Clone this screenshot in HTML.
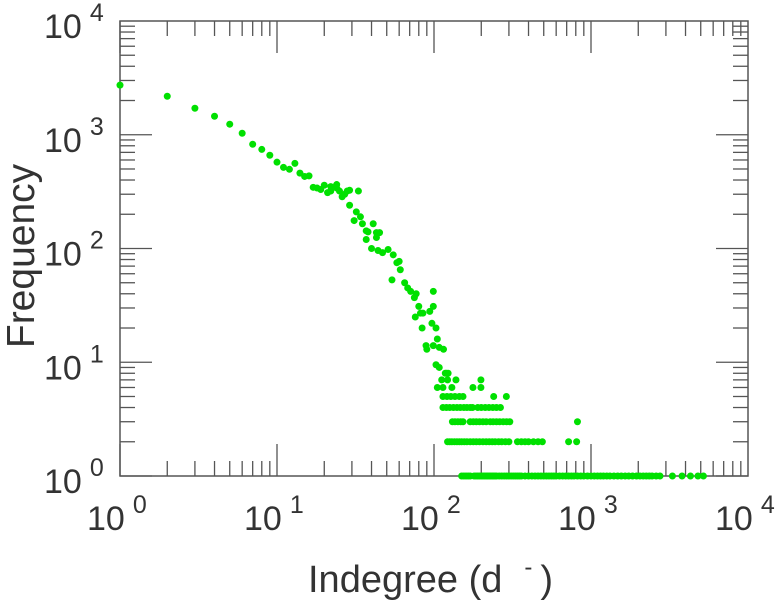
<!DOCTYPE html>
<html><head><meta charset="utf-8"><style>
body{margin:0;background:#fff}
svg{display:block}
text{font-family:"Liberation Sans",sans-serif;fill:#333}
</style></head><body>
<svg id="chart" width="779" height="600" viewBox="0 0 779 600" xmlns="http://www.w3.org/2000/svg">
<g id="axes"></g>
<g id="points"></g>
<text transform="translate(34,256) rotate(-90)" text-anchor="middle" font-size="39">Frequency</text>
<text x="308" y="592" font-size="38">Indegree (d<tspan dx="22" dy="-17" font-size="24">-</tspan><tspan dx="8" dy="17">)</tspan></text>
</svg>
<script>
const degrees = [1,2,3,4,5,6,7,8,9,10,11,12,13,14,15,16,17,18,19,20,21,22,22,24,24,25,26,27,28,29,33,29,32,34,31,35,37,38,41,43,45,43,37,40,44,47,51,55,58,54,60,61,65,68,71,75,77,80,82,85,76,84,99,94,99,97,103,105,99,89,90,108,115,103,108,118];
const freqs = [2730,2180,1710,1455,1238,1031,825,743,660,574,517,497,560,460,430,435,345,340,330,360,310,320,350,365,340,320,285,300,320,325,320,240,210,190,176,165,143,140,165,138,138,125,120,100,96,92,98,88,75,53,77,65,50,45,42,37,40,31,27,27,25,20,42,28,31,22,20,16,14,14,13,13.5,13,9.5,9,8];
const row8 = [120,123];
const row7 = [112,122,138,199];
const row6 = [105,114,130,177,199];
const row5 = [114,121,128,136,145,153,240,289];
const row4 = [114,120,126,133,140,147,155,162,170,176,190,200,212,224,237,250,265];
const row3 = [131,136,142,148,153,170,178,186,195,205,215,228,238,250,262,276,290,304,820];
const row2 = [122,126,130,135,140,145,150,156,162,170,178,186,195,205,215,225,235,245,258,270,285,300,340,360,380,400,430,460,490,720,810];
const row1 = [150,155,160,165,170,180,185,190,195,200,205,210,215,220,225,230,235,240,245,250,260,270,280,290,300,310,320,330,340,350,360,380,400,420,440,460,480,500,520,540,560,580,600,630,660,690,720,750,780,820,860,900,950,1000,1050,1100,1150,1200,1260,1320,1400,1480,1560,1650,1740,1840,1950,2050,2150,2250,2350,2450,2600,2750,3300,3800,4300,4800,5200];
const rowFreqs = [8,7,6,5,4,3,2,1];
const decades = [0,1,2,3,4];

const NS="http://www.w3.org/2000/svg";
const L=120,R=748,T=21,B=476;
const xs=d=>L+(Math.log10(d)/4)*(R-L);
const ys=f=>B-(Math.log10(f)/4)*(B-T);
const axes=document.getElementById('axes');
const pts=document.getElementById('points');
function mk(tag,attrs,parent){const e=document.createElementNS(NS,tag);for(const k in attrs)e.setAttribute(k,attrs[k]);parent.appendChild(e);return e;}
const frame=mk('rect',{x:L,y:T,width:R-L,height:B-T,fill:'none',stroke:'#555','stroke-width':1.5},axes);


for(let d=0;d<4;d++){for(let m=1;m<10;m++){
  const v=Math.pow(10,d)*m, maj=(m===1), len=maj?32:15;
  const x=xs(v), y=ys(v);
  [[x,B,x,B-len],[x,T,x,T+len],[L,y,L+len,y],[R,y,R-len,y]].forEach(c=>{
    const t=mk('line',{x1:c[0],y1:c[1],x2:c[2],y2:c[3],stroke:'#555','stroke-width':1.3},axes);
    
    
  });
}}
decades.forEach(e=>{
  const v=Math.pow(10,e);
  const tx=mk('text',{x:xs(v)-33,y:530,'font-size':34},axes);
  tx.innerHTML='10<tspan dx="8" dy="-17" font-size="25">'+e+'</tspan>';
  
  
  const ty=mk('text',{x:44,y:ys(v)+17,'font-size':34},axes);
  ty.innerHTML='10<tspan dx="8" dy="-17" font-size="25">'+e+'</tspan>';
  
  
});
function dot(d,f){
  const c=mk('circle',{cx:xs(d),cy:ys(f),r:3.5,fill:'#00e000'},pts);
  
  
}
degrees.forEach((d,i)=>dot(d,freqs[i]));
[row8,row7,row6,row5,row4,row3,row2,row1].forEach((row,i)=>row.forEach(d=>dot(d,rowFreqs[i])));
</script>
</body></html>
